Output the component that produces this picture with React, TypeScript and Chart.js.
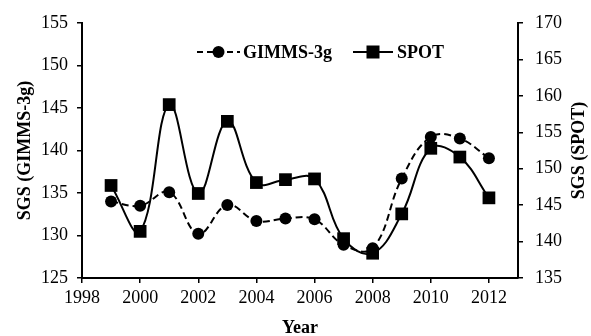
import React, { useEffect, useRef } from "react";
import { Chart, registerables } from "chart.js";

Chart.register(...registerables);

const years = [1999, 2000, 2001, 2002, 2003, 2004, 2005, 2006, 2007, 2008, 2009, 2010, 2011, 2012];
const gimms = [134.0, 133.5, 135.1, 130.2, 133.6, 131.7, 132.0, 131.9, 128.9, 128.5, 136.7, 141.6, 141.4, 139.1];
const spot = [147.7, 141.4, 158.8, 146.6, 156.5, 148.1, 148.5, 148.6, 140.4, 138.4, 143.8, 152.8, 151.6, 146.0];
const xTicks = [1998, 2000, 2002, 2004, 2006, 2008, 2010, 2012];
const seriesNames = ["GIMMS-3g", "SPOT"];
const leftTitle = "SGS (GIMMS-3g)";
const rightTitle = "SGS (SPOT)";
const xTitle = "Year";

const FONT = "'Liberation Serif', 'Times New Roman', serif";

const customPlugin = {
  id: "customDecor",
  afterDraw(chart: any) {
    const ctx = chart.ctx;
    const area = chart.chartArea;
    ctx.save();
    ctx.font = `bold 18px ${FONT}`;
    ctx.fillStyle = "#000";
    ctx.textAlign = "center";
    ctx.textBaseline = "middle";
    ctx.translate(579, (area.top + area.bottom) / 2);
    ctx.rotate(-Math.PI / 2);
    ctx.fillText(rightTitle, 0, 0);
    ctx.restore();

    ctx.save();
    const ly = 52;
    ctx.strokeStyle = "#000";
    ctx.fillStyle = "#000";
    ctx.lineWidth = 2;
    ctx.setLineDash([6, 4]);
    ctx.beginPath();
    ctx.moveTo(197, ly);
    ctx.lineTo(240, ly);
    ctx.stroke();
    ctx.setLineDash([]);
    ctx.beginPath();
    ctx.arc(218.5, ly, 6, 0, Math.PI * 2);
    ctx.fill();
    ctx.font = `bold 18px ${FONT}`;
    ctx.textAlign = "left";
    ctx.textBaseline = "middle";
    ctx.fillText(seriesNames[0], 243, ly + 1);

    ctx.beginPath();
    ctx.moveTo(353, ly);
    ctx.lineTo(393, ly);
    ctx.stroke();
    ctx.fillRect(373 - 6.5, ly - 6.5, 13, 13);
    ctx.fillText(seriesNames[1], 397, ly + 1);
    ctx.restore();
  },
};

export default function App() {
  const ref = useRef<HTMLCanvasElement | null>(null);

  useEffect(() => {
    if (!ref.current) return;
    const chart = new Chart(ref.current, {
      type: "line",
      data: {
        datasets: [
          {
            label: seriesNames[0],
            data: years.map((y, i) => ({ x: y, y: gimms[i] })),
            yAxisID: "y",
            borderColor: "#000",
            backgroundColor: "#000",
            borderWidth: 2,
            borderDash: [7, 4],
            pointStyle: "circle",
            pointRadius: 6,
            pointBackgroundColor: "#000",
            pointBorderWidth: 0,
            tension: 0.4,
            fill: false,
          },
          {
            label: seriesNames[1],
            data: years.map((y, i) => ({ x: y, y: spot[i] })),
            yAxisID: "y1",
            borderColor: "#000",
            backgroundColor: "#000",
            borderWidth: 2,
            pointStyle: "rect",
            pointRadius: 9,
            pointBackgroundColor: "#000",
            pointBorderWidth: 0,
            tension: 0.4,
            fill: false,
          },
        ],
      },
      options: {
        responsive: false,
        animation: false,
        layout: { padding: { top: 23, left: 0, right: 0, bottom: 0 } },
        plugins: { legend: { display: false }, tooltip: { enabled: false } },
        scales: {
          x: {
            type: "linear",
            min: 1998,
            max: 2013,
            afterBuildTicks: (scale: any) => {
              scale.ticks = xTicks.map((v) => ({ value: v }));
            },
            afterFit: (scale: any) => {
              scale.height = 58;
            },
            ticks: {
              color: "#000",
              padding: 4,
              maxRotation: 0,
              autoSkip: false,
              font: { family: FONT, size: 18 },
              callback: (v: any) => String(v),
            },
            grid: { drawOnChartArea: false, drawTicks: true, tickLength: 5, color: "#000", lineWidth: 1.5 },
            border: { display: true, color: "#000", width: 2 },
            title: {
              display: true,
              text: xTitle,
              color: "#000",
              padding: { top: 0, bottom: -3 },
              font: { family: FONT, size: 18, weight: "bold", lineHeight: 1.2 },
            },
          },
          y: {
            type: "linear",
            position: "left",
            min: 125,
            max: 155,
            afterFit: (scale: any) => {
              scale.width = 82;
            },
            ticks: {
              stepSize: 5,
              color: "#000",
              padding: 9,
              font: { family: FONT, size: 18 },
            },
            grid: { drawOnChartArea: false, drawTicks: true, tickLength: 5, color: "#000", lineWidth: 1.5 },
            border: { display: true, color: "#000", width: 2 },
            title: {
              display: true,
              text: leftTitle,
              color: "#000",
              padding: { top: 15, bottom: 0 },
              font: { family: FONT, size: 18, weight: "bold", lineHeight: 1.2 },
            },
          },
          y1: {
            type: "linear",
            position: "right",
            min: 135,
            max: 170,
            afterFit: (scale: any) => {
              scale.width = 73;
            },
            ticks: {
              stepSize: 5,
              color: "#000",
              padding: 12,
              font: { family: FONT, size: 18 },
            },
            grid: { drawOnChartArea: false, drawTicks: true, tickLength: 5, color: "#000", lineWidth: 1.5 },
            border: { display: true, color: "#000", width: 2 },
          },
        },
      },
      plugins: [customPlugin],
    } as any);
    return () => chart.destroy();
  }, []);

  return (
    <div style={{ position: "absolute", left: 0, top: 0, width: 591, height: 336, background: "#fff" }}>
      <canvas ref={ref} width={591} height={336} style={{ display: "block" }} />
    </div>
  );
}
